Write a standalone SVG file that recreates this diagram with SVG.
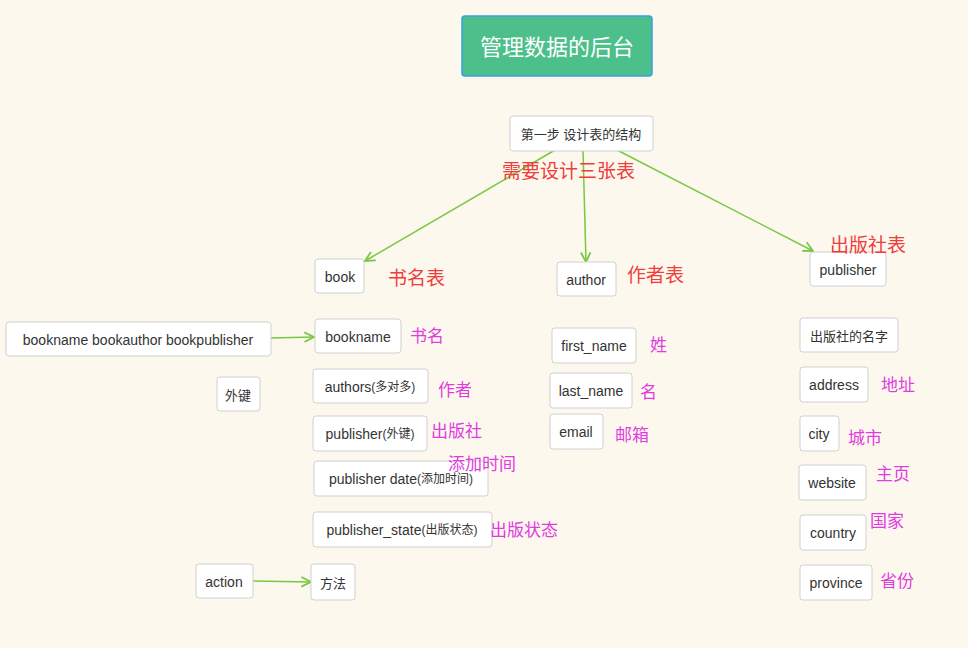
<svg xmlns="http://www.w3.org/2000/svg" width="968" height="648" viewBox="0 0 968 648">
<style>
.n{fill:#fff;stroke:#d0d0d0;stroke-width:1}
.t{font-family:"Liberation Sans","Noto Sans CJK SC",sans-serif;font-size:14px;fill:#333;text-anchor:middle;dominant-baseline:central}
.r{font-family:"Noto Sans CJK SC",sans-serif;font-size:19px;fill:#f03c3c}
.m{font-family:"Noto Sans CJK SC",sans-serif;font-size:17px;fill:#e03ce0}
.c{stroke:#77c843;stroke-width:1.5;fill:none;marker-end:url(#a)}
</style>
<defs><marker id="a" viewBox="0 0 10 10" refX="9" refY="5" markerWidth="8" markerHeight="8" orient="auto"><path d="M1,1 L9,5 L1,9" fill="none" stroke="#77c843" stroke-width="1.5"/></marker></defs>
<rect width="968" height="648" fill="#fdf8ee"/>
<g id="connectors">
<line class="c" x1="555" y1="150" x2="365" y2="261"/>
<line class="c" x1="583" y1="150" x2="586" y2="262"/>
<line class="c" x1="617" y1="150" x2="813" y2="251"/>
<line class="c" x1="271" y1="338" x2="314" y2="337"/>
<line class="c" x1="253" y1="581" x2="311" y2="582"/>
</g>
<g id="title"><rect x="462" y="16" width="190" height="60" rx="3" fill="#4cbf8a" stroke="#3aa0e0" stroke-width="1.5"/><text class="t" x="557" y="47" style="fill:#fff;font-size:22px">管理数据的后台</text></g>
<g id="step"><rect class="n" x="510" y="116" width="143" height="35" rx="3"/><text class="t" x="581" y="134" style="font-size:13px">第一步 设计表的结构</text></g>
<g id="book"><rect class="n" x="315" y="259" width="49" height="34" rx="3"/><text class="t" x="340" y="277">book</text></g>
<g id="author"><rect class="n" x="557" y="262" width="59" height="34" rx="3"/><text class="t" x="586" y="280">author</text></g>
<g id="publisher"><rect class="n" x="810" y="252" width="76" height="34" rx="3"/><text class="t" x="848" y="270">publisher</text></g>
<g id="bbb"><rect class="n" x="6" y="322" width="265" height="34" rx="3"/><text class="t" x="138" y="340">bookname bookauthor bookpublisher</text></g>
<g id="bookname"><rect class="n" x="315" y="319" width="86" height="34" rx="3"/><text class="t" x="358" y="337">bookname</text></g>
<g id="fk"><rect class="n" x="217" y="377" width="43" height="34" rx="3"/><text class="t" x="238" y="395" style="font-size:13px">外键</text></g>
<g id="authors"><rect class="n" x="313" y="369" width="115" height="34" rx="3"/><text class="t" x="370" y="387">authors<tspan style="font-size:12px">(多对多)</tspan></text></g>
<g id="pubfk"><rect class="n" x="313" y="416" width="114" height="35" rx="3"/><text class="t" x="370" y="434">publisher<tspan style="font-size:12px">(外键)</tspan></text></g>
<g id="pubdate"><rect class="n" x="314" y="461" width="174" height="35" rx="3"/><text class="t" x="401" y="479">publisher date<tspan style="font-size:12px">(添加时间)</tspan></text></g>
<g id="pubstate"><rect class="n" x="313" y="512" width="179" height="35" rx="3"/><text class="t" x="402" y="530">publisher_state<tspan style="font-size:12px">(出版状态)</tspan></text></g>
<g id="action"><rect class="n" x="196" y="564" width="57" height="34" rx="3"/><text class="t" x="224" y="582">action</text></g>
<g id="method"><rect class="n" x="311" y="564" width="44" height="36" rx="3"/><text class="t" x="333" y="583" style="font-size:13px">方法</text></g>
<g id="first"><rect class="n" x="552" y="328" width="84" height="35" rx="3"/><text class="t" x="594" y="346">first_name</text></g>
<g id="last"><rect class="n" x="550" y="373" width="82" height="35" rx="3"/><text class="t" x="591" y="391">last_name</text></g>
<g id="email"><rect class="n" x="550" y="414" width="53" height="35" rx="3"/><text class="t" x="576" y="432">email</text></g>
<g id="pname"><rect class="n" x="800" y="318" width="98" height="34" rx="3"/><text class="t" x="849" y="336" style="font-size:13px">出版社的名字</text></g>
<g id="address"><rect class="n" x="800" y="367" width="68" height="35" rx="3"/><text class="t" x="834" y="385">address</text></g>
<g id="city"><rect class="n" x="800" y="416" width="39" height="35" rx="3"/><text class="t" x="819" y="434">city</text></g>
<g id="website"><rect class="n" x="799" y="465" width="67" height="35" rx="3"/><text class="t" x="832" y="483">website</text></g>
<g id="country"><rect class="n" x="800" y="515" width="66" height="35" rx="3"/><text class="t" x="833" y="533">country</text></g>
<g id="province"><rect class="n" x="800" y="565" width="72" height="35" rx="3"/><text class="t" x="836" y="583">province</text></g>
<g id="labels">
<text class="r" x="502" y="178">需要设计三张表</text>
<text class="r" x="388" y="285">书名表</text>
<text class="r" x="627" y="282">作者表</text>
<text class="r" x="830" y="252">出版社表</text>
<text class="m" x="410" y="342">书名</text>
<text class="m" x="438" y="396">作者</text>
<text class="m" x="431" y="437">出版社</text>
<text class="m" x="448" y="470">添加时间</text>
<text class="m" x="490" y="536">出版状态</text>
<text class="m" x="650" y="351">姓</text>
<text class="m" x="640" y="398">名</text>
<text class="m" x="615" y="441">邮箱</text>
<text class="m" x="881" y="391">地址</text>
<text class="m" x="848" y="444">城市</text>
<text class="m" x="876" y="480">主页</text>
<text class="m" x="870" y="527">国家</text>
<text class="m" x="880" y="587">省份</text>
</g>
</svg>
